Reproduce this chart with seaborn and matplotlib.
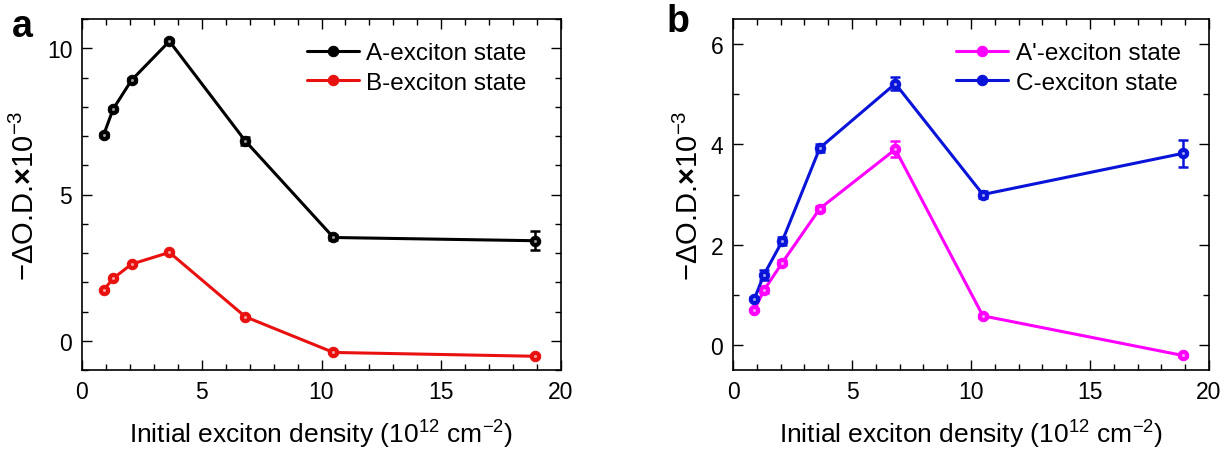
import numpy as np
import pandas as pd
import matplotlib
matplotlib.use("Agg")
import matplotlib.pyplot as plt
from matplotlib.ticker import MultipleLocator
import seaborn as sns

# ---- data ----
density = [0.9, 1.3, 2.07, 3.65, 6.82, 10.5, 18.9]

a_exciton = [7.03, 7.92, 8.91, 10.24, 6.83, 3.53, 3.42]
a_exciton_err = [0.08, 0.08, 0.08, 0.06, 0.15, 0.07, 0.33]
b_exciton = [1.73, 2.13, 2.62, 3.02, 0.82, -0.40, -0.53]
b_exciton_err = [0.03, 0.03, 0.03, 0.03, 0.03, 0.03, 0.03]

ap_exciton = [0.70, 1.09, 1.64, 2.72, 3.90, 0.58, -0.21]
ap_exciton_err = [0.02, 0.05, 0.05, 0.05, 0.16, 0.04, 0.03]
c_exciton = [0.92, 1.40, 2.07, 3.93, 5.21, 3.00, 3.82]
c_exciton_err = [0.03, 0.10, 0.08, 0.08, 0.13, 0.06, 0.27]

labels_a = ["A-exciton state", "B-exciton state"]
labels_b = ["A'-exciton state", "C-exciton state"]
colors_a = ["#000000", "#e8110f"]
colors_b = ["#ff00ff", "#0a14d8"]

sns.set_theme(style="ticks")
plt.rcParams["font.family"] = ["Liberation Sans", "DejaVu Sans"]
plt.rcParams["mathtext.fontset"] = "custom"
plt.rcParams["mathtext.rm"] = "Liberation Sans"
plt.rcParams["mathtext.it"] = "Liberation Sans:italic"
plt.rcParams["mathtext.bf"] = "Liberation Sans:bold"
plt.rcParams["axes.unicode_minus"] = False
for k in ["text.color", "axes.labelcolor", "xtick.color", "ytick.color", "axes.edgecolor"]:
    plt.rcParams[k] = "black"

fig = plt.figure(figsize=(12.26, 4.52), dpi=100)
W, H = 1226, 452
axA = fig.add_axes([82 / W, 1 - 371 / H, (561 - 82) / W, (371 - 20) / H])
axB = fig.add_axes([733 / W, 1 - 371 / H, (1209 - 733) / W, (371 - 20) / H])


def draw(ax, series, errs, labels, colors, anchor):
    for y, e, lab, col in zip(series, errs, labels, colors):
        df = pd.DataFrame({"x": density, "y": y})
        sns.lineplot(data=df, x="x", y="y", ax=ax, color=col, lw=2.2,
                     marker="o", markersize=7.5, markeredgecolor=col,
                     markerfacecolor=col, label=lab, zorder=3)
        ax.errorbar(density, y, yerr=e, fmt="none", ecolor=col, elinewidth=1.8,
                    capsize=3.5, capthick=1.8, zorder=4)
        ax.plot(density, y, ls="none", marker="o", markersize=2.2,
                markerfacecolor="white", markeredgecolor="none", zorder=5, alpha=0.6)
    ax.set_xlim(0, 20)
    ax.xaxis.set_major_locator(MultipleLocator(5))
    ax.xaxis.set_minor_locator(MultipleLocator(1))
    ax.tick_params(which="both", direction="in", top=True, right=True,
                   labelsize=16.5, width=1.0, pad=7)
    ax.tick_params(which="major", length=7)
    ax.tick_params(which="minor", length=4)
    for s in ax.spines.values():
        s.set_linewidth(1.2)
    ax.set_xlabel("Initial exciton density (10$^{12}$ cm$^{-2}$)", fontsize=19, labelpad=11)
    ax.set_ylabel("\u2212\u0394O.D.$\\mathbf{\\times}$10$^{-3}$", fontsize=21, labelpad=5)
    leg = ax.legend(loc="upper right", bbox_to_anchor=anchor, frameon=False,
                    fontsize=17.5, handlelength=2.15, handletextpad=0.3,
                    labelspacing=0.3, borderaxespad=0.4)
    return leg


draw(axA, [a_exciton, b_exciton], [a_exciton_err, b_exciton_err], labels_a, colors_a,
     (1 - 15 / 479, 1 - 4 / 351))
axA.set_ylim(-1, 11)
axA.yaxis.set_major_locator(MultipleLocator(5))
axA.yaxis.set_minor_locator(MultipleLocator(1))

draw(axB, [ap_exciton, c_exciton], [ap_exciton_err, c_exciton_err], labels_b, colors_b,
     (1 - 9 / 476, 1 - 4 / 351))
axB.set_ylim(-0.5, 6.5)
axB.yaxis.set_major_locator(MultipleLocator(2))
axB.yaxis.set_minor_locator(MultipleLocator(1))

fig.text(12 / W, 1 - 27 / H, "a", fontsize=27, fontweight="bold", va="center", ha="left")
fig.text(667 / W, 1 - 22 / H, "b", fontsize=27, fontweight="bold", va="center", ha="left")

fig.savefig("out.png", dpi=100)
